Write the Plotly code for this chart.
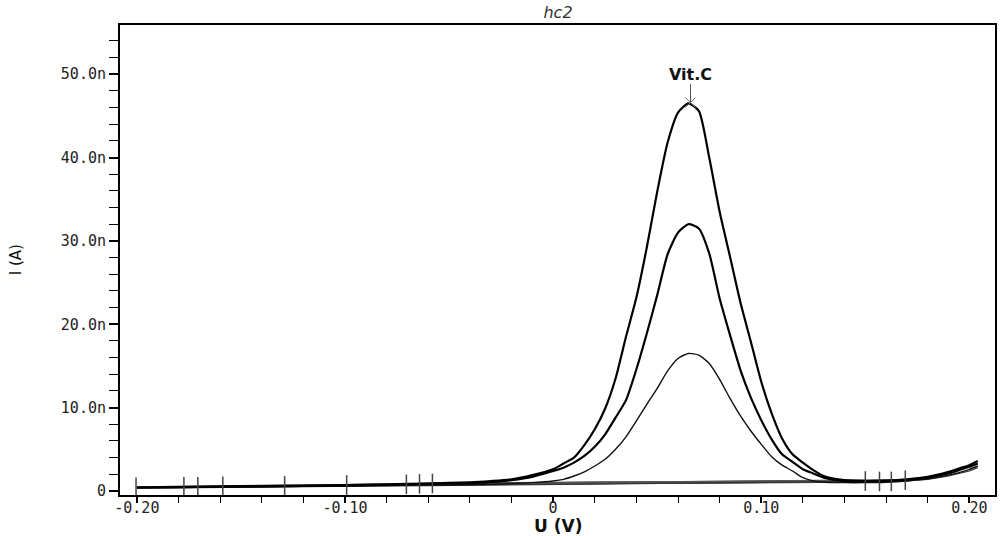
import plotly.graph_objects as go

# ---------------- data ----------------
voltage = [-0.200, -0.18, -0.16, -0.14, -0.12, -0.10, -0.08, -0.06, -0.04, -0.03,
           -0.02, -0.01, 0.0, 0.005, 0.01, 0.015, 0.02, 0.025, 0.03, 0.035,
           0.04, 0.045, 0.05, 0.055, 0.06, 0.065, 0.07, 0.075, 0.08, 0.085,
           0.09, 0.095, 0.10, 0.105, 0.11, 0.115, 0.12, 0.125, 0.13, 0.14,
           0.15, 0.16, 0.17, 0.18, 0.19, 0.195, 0.2, 0.204]

# currents in nA
curve_high = [0.45, 0.5, 0.55, 0.6, 0.65, 0.72, 0.8, 0.9, 1.05, 1.2,
              1.4, 1.9, 2.6, 3.3, 4.0, 5.5, 7.4, 9.9, 13.5, 18.5,
              23.2, 29.2, 35.9, 41.8, 45.4, 46.5, 45.6, 40.0, 33.5, 28.1,
              22.6, 17.9, 13.1, 9.3, 6.3, 4.4, 3.4, 2.5, 1.8, 1.3,
              1.2, 1.25, 1.4, 1.7, 2.3, 2.7, 3.1, 3.6]
curve_mid = [0.42, 0.47, 0.52, 0.56, 0.6, 0.65, 0.75, 0.85, 0.95, 1.05,
             1.3, 1.7, 2.4, 2.8, 3.4, 4.2, 5.3, 6.8, 8.8, 10.9,
             14.6, 18.9, 23.5, 28.4, 31.0, 32.0, 31.5, 28.5, 23.1, 18.7,
             14.5, 11.2, 8.5, 6.2, 4.4, 3.5, 2.6, 2.1, 1.6, 1.2,
             1.15, 1.2, 1.35, 1.6, 2.1, 2.5, 2.9, 3.3]
curve_low = [0.38, 0.42, 0.46, 0.5, 0.55, 0.6, 0.65, 0.7, 0.75, 0.8,
             0.9, 1.0, 1.2, 1.4, 1.8, 2.3, 3.0, 3.8, 5.0, 6.5,
             8.4, 10.4, 12.3, 14.4, 15.9, 16.5, 16.3, 15.3, 13.4, 11.1,
             9.0, 7.2, 5.6, 4.1, 3.1, 2.4, 1.6, 1.2, 1.05, 1.0,
             1.0, 1.05, 1.2, 1.45, 1.9, 2.2, 2.6, 3.0]
curve_blank = [0.35, 0.38, 0.42, 0.46, 0.5, 0.55, 0.6, 0.65, 0.7, 0.72,
               0.75, 0.78, 0.8, 0.82, 0.84, 0.86, 0.88, 0.9, 0.92, 0.94,
               0.95, 0.96, 0.97, 0.98, 0.99, 1.0, 1.0, 1.0, 1.01, 1.02,
               1.03, 1.04, 1.05, 1.06, 1.07, 1.08, 1.09, 1.1, 1.1, 1.1,
               1.1, 1.12, 1.2, 1.4, 1.8, 2.1, 2.4, 2.8]

# baseline segments (start V, start nA, end V, end nA)
base_x0 = [-0.0705, -0.0642, -0.058, -0.1587]
base_y0 = [0.80, 0.85, 0.90, 0.55]
base_x1 = [0.150, 0.1568, 0.1625, 0.1692]
base_y1 = [1.20, 1.15, 1.15, 1.30]

# baseline markers
marker_x = [-0.2004, -0.1774, -0.1707, -0.1587, -0.129, -0.0992, -0.0705, -0.0642,
            -0.058, 0.150, 0.1568, 0.1625, 0.1692]
marker_y = [0.45, 0.5, 0.5, 0.55, 0.62, 0.72, 0.80, 0.85, 0.90, 1.2, 1.15, 1.15, 1.3]

peak_label = "Vit.C"
peak_x = 0.066
peak_y = 46.6

y_tickvals = [0, 10, 20, 30, 40, 50]
y_ticktext = ["0", "10.0n", "20.0n", "30.0n", "40.0n", "50.0n"]
x_tickvals = [-0.20, -0.10, 0.0, 0.10, 0.20]
x_ticktext = ["-0.20", "-0.10", "0", "0.10", "0.20"]

# ---------------- figure ----------------
fig = go.Figure()

for bx0, by0, bx1, by1 in zip(base_x0, base_y0, base_x1, base_y1):
    fig.add_trace(go.Scatter(x=[bx0, bx1], y=[by0, by1], mode="lines",
                             line=dict(color="#555555", width=2.5), hoverinfo="skip"))

fig.add_trace(go.Scatter(x=voltage, y=curve_blank, mode="lines",
                         line=dict(color="#333333", width=1.2)))
fig.add_trace(go.Scatter(x=voltage, y=curve_low, mode="lines",
                         line=dict(color="#111111", width=1.4, shape="spline", smoothing=0.6)))
fig.add_trace(go.Scatter(x=voltage, y=curve_mid, mode="lines",
                         line=dict(color="#000000", width=2.2, shape="spline", smoothing=0.6)))
fig.add_trace(go.Scatter(x=voltage, y=curve_high, mode="lines",
                         line=dict(color="#000000", width=2.2, shape="spline", smoothing=0.6)))

fig.add_trace(go.Scatter(x=marker_x, y=marker_y, mode="markers",
                         marker=dict(symbol="line-ns", size=14,
                                     line=dict(color="#444444", width=1.5))))

# peak label line and cross
fig.add_trace(go.Scatter(x=[peak_x, peak_x], y=[peak_y, peak_y + 2.2], mode="lines",
                         line=dict(color="#555555", width=1)))
fig.add_trace(go.Scatter(x=[peak_x], y=[peak_y], mode="markers",
                         marker=dict(symbol="x-thin", size=10,
                                     line=dict(color="#777777", width=1))))

fig.add_annotation(x=peak_x, y=peak_y + 3.4, text="<b>" + peak_label + "</b>",
                   showarrow=False, xref="x", yref="y",
                   font=dict(family="DejaVu Sans", size=16, color="#111111"))

axis_font = dict(family="DejaVu Sans Mono", size=15, color="#222222")

fig.update_layout(
    width=1000, height=536,
    margin=dict(l=120, r=3, t=25, b=41),
    paper_bgcolor="white", plot_bgcolor="white",
    showlegend=False,
    title=dict(text="<i>hc2</i>", x=0.558, xanchor="center", y=0.977, yanchor="middle",
               font=dict(family="DejaVu Sans", size=16, color="#333333")),
    xaxis=dict(range=[-0.2081, 0.2123], tickvals=x_tickvals, ticktext=x_ticktext,
               showgrid=False, zeroline=False, showline=True, linecolor="black",
               linewidth=2, mirror=True, ticks="outside", ticklen=6, tickwidth=1.5,
               tickcolor="black", tickfont=axis_font, ticklabelstandoff=-8,
               minor=dict(dtick=0.02, tick0=0, ticks="outside", ticklen=6,
                          tickwidth=1, tickcolor="black", showgrid=False)),
    yaxis=dict(range=[-0.48, 55.9], tickvals=y_tickvals, ticktext=y_ticktext,
               showgrid=False, zeroline=False, showline=True, linecolor="black",
               linewidth=2, mirror=True, ticks="outside", ticklen=9, tickwidth=1.5,
               tickcolor="black", tickfont=axis_font,
               minor=dict(dtick=2, tick0=0, ticks="outside", ticklen=9,
                          tickwidth=1, tickcolor="black", showgrid=False)),
)

fig.add_annotation(x=0.5, y=0, xref="paper", yref="paper", yshift=-31,
                   text="<b>U (V)</b>", showarrow=False, yanchor="middle",
                   font=dict(family="DejaVu Sans", size=17, color="#111111"))
fig.add_annotation(x=-0.1186, y=0.5, xref="paper", yref="paper", xanchor="center",
                   yanchor="middle", text="I (A)", showarrow=False, textangle=-90,
                   font=dict(family="DejaVu Sans", size=15, color="#111111"))

fig.write_html("out.html")
